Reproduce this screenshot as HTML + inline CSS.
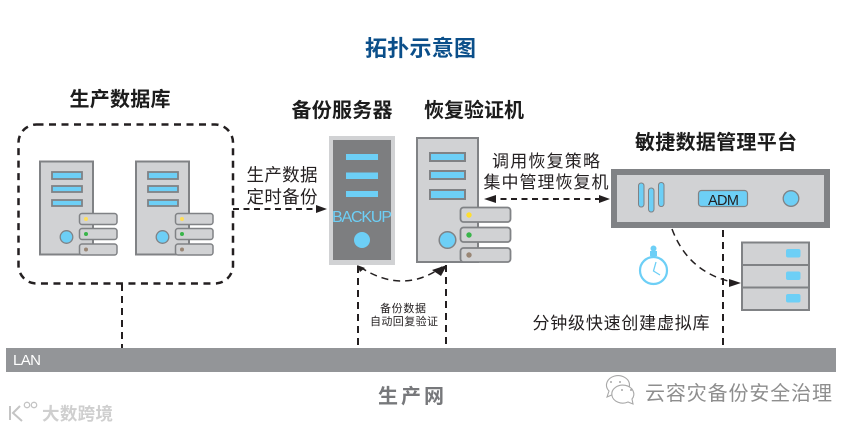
<!DOCTYPE html>
<html><head><meta charset="utf-8"><style>
html,body{margin:0;padding:0;background:#fff;width:860px;height:429px;overflow:hidden}
svg{display:block}
text{font-family:"Liberation Sans","Noto Sans CJK SC",sans-serif}
</style></head><body>
<svg width="860" height="429" viewBox="0 0 860 429" xmlns="http://www.w3.org/2000/svg">
<defs>
<g id="srv">
<rect x="40" y="161.5" width="53" height="93" fill="#d1d2d4" stroke="#808285" stroke-width="2"/>
<rect x="52" y="172" width="30" height="7" fill="#6dcff6" stroke="#808285" stroke-width="1.8"/>
<rect x="52" y="186" width="30" height="6" fill="#6dcff6" stroke="#808285" stroke-width="1.8"/>
<rect x="52" y="200" width="30" height="6" fill="#6dcff6" stroke="#808285" stroke-width="1.8"/>
<circle cx="66.5" cy="237" r="6.3" fill="#6dcff6" stroke="#808285" stroke-width="1.3"/>
<rect x="79.5" y="213.5" width="37.5" height="11" rx="2.5" fill="#d1d2d4" stroke="#808285" stroke-width="1.5"/>
<rect x="79.5" y="228.5" width="37.5" height="11" rx="2.5" fill="#d1d2d4" stroke="#808285" stroke-width="1.5"/>
<rect x="79.5" y="244" width="37.5" height="11" rx="2.5" fill="#d1d2d4" stroke="#808285" stroke-width="1.5"/>
<circle cx="86" cy="219" r="2" fill="#ffde59"/>
<circle cx="86" cy="234" r="2" fill="#39b54a"/>
<circle cx="86" cy="249.5" r="2" fill="#998675"/>
</g>
</defs>

<text x="420.5" y="56" text-anchor="middle" font-size="22" font-weight="700" fill="#0b4f8a" textLength="111">拓扑示意图</text>
<text x="120" y="106" text-anchor="middle" font-size="20" font-weight="700" fill="#1c1c1c" textLength="101">生产数据库</text>
<text x="342" y="117" text-anchor="middle" font-size="20" font-weight="700" fill="#1c1c1c" textLength="101">备份服务器</text>
<text x="474" y="117" text-anchor="middle" font-size="20" font-weight="700" fill="#1c1c1c" textLength="100">恢复验证机</text>
<text x="716" y="149" text-anchor="middle" font-size="20" font-weight="700" fill="#1c1c1c" textLength="162">敏捷数据管理平台</text>

<rect x="18.5" y="124.5" width="214.5" height="159" rx="18" fill="none" stroke="#231f20" stroke-width="2.5" stroke-dasharray="7 5.5"/>
<use href="#srv"/>
<use href="#srv" x="96"/>

<path d="M233 209H322" fill="none" stroke="#231f20" stroke-width="2" stroke-dasharray="6 4.5"/>
<path d="M316 205L327 209L316 213Z" fill="#231f20"/>
<text x="282" y="181" text-anchor="middle" font-size="17.5" fill="#231f20" textLength="71">生产数据</text>
<text x="282" y="203" text-anchor="middle" font-size="17.5" fill="#231f20" textLength="71">定时备份</text>

<rect x="329" y="136" width="66" height="129" fill="#d1d2d4"/>
<rect x="333" y="140" width="58" height="120" fill="#7d7e80"/>
<rect x="346" y="154" width="32" height="6" fill="#6dcff6"/>
<rect x="346" y="172.5" width="32" height="6.5" fill="#6dcff6"/>
<rect x="346" y="191" width="32" height="6" fill="#6dcff6"/>
<text x="362" y="222" text-anchor="middle" font-size="16" fill="#6dcff6" textLength="60">BACKUP</text>
<circle cx="362" cy="240" r="8" fill="#6dcff6"/>

<rect x="417" y="138" width="61" height="124" fill="#d1d2d4" stroke="#808285" stroke-width="2"/>
<rect x="430" y="153" width="35" height="8" fill="#6dcff6" stroke="#808285" stroke-width="2"/>
<rect x="430" y="171" width="35" height="8" fill="#6dcff6" stroke="#808285" stroke-width="2"/>
<rect x="430" y="190" width="35" height="9" fill="#6dcff6" stroke="#808285" stroke-width="2"/>
<circle cx="447.5" cy="240" r="8.3" fill="#6dcff6" stroke="#808285" stroke-width="1.5"/>
<rect x="460.5" y="207.5" width="50" height="14.5" rx="3" fill="#d1d2d4" stroke="#808285" stroke-width="1.8"/>
<rect x="460.5" y="227.5" width="50" height="14.5" rx="3" fill="#d1d2d4" stroke="#808285" stroke-width="1.8"/>
<rect x="460.5" y="248" width="50" height="14" rx="3" fill="#d1d2d4" stroke="#808285" stroke-width="1.8"/>
<circle cx="469" cy="215" r="2.7" fill="#ffde2e"/>
<circle cx="469" cy="235" r="2.7" fill="#39b54a"/>
<circle cx="469" cy="255" r="2.7" fill="#998675"/>

<path d="M360 267Q403 295 442 267" fill="none" stroke="#231f20" stroke-width="1.5" stroke-dasharray="7 5"/>
<path d="M357 265L365 268L360 272Z" fill="#231f20"/>
<path d="M447 265L432 270L441 276Z" fill="#231f20"/>
<path d="M358 266V348M446 265V348" fill="none" stroke="#231f20" stroke-width="2" stroke-dasharray="7 5"/>
<text x="403" y="312" text-anchor="middle" font-size="11" fill="#231f20" textLength="46">备份数据</text>
<text x="404" y="325" text-anchor="middle" font-size="11" fill="#231f20" textLength="68">自动回复验证</text>

<text x="546" y="167" text-anchor="middle" font-size="17" fill="#231f20" textLength="108">调用恢复策略</text>
<text x="546" y="188" text-anchor="middle" font-size="17" fill="#231f20" textLength="125">集中管理恢复机</text>
<path d="M490 199H603" fill="none" stroke="#231f20" stroke-width="2" stroke-dasharray="6 4.5"/>
<path d="M484 199L496 195V203Z" fill="#231f20"/>
<path d="M610 199L599 195V203Z" fill="#231f20"/>

<rect x="611" y="169" width="219" height="59" fill="#808285"/>
<rect x="617" y="175" width="207" height="47" fill="#d1d2d4"/>
<rect x="638.5" y="183" width="5.5" height="24" rx="2.7" fill="#6dcff6" stroke="#808285"/>
<rect x="648.5" y="188" width="5.5" height="24" rx="2.7" fill="#6dcff6" stroke="#808285"/>
<rect x="658.5" y="182.5" width="5.5" height="24" rx="2.7" fill="#6dcff6" stroke="#808285"/>
<rect x="698.5" y="190.5" width="49" height="16" rx="3" fill="#6dcff6" stroke="#808285" stroke-width="1.2"/>
<text x="723.5" y="205" text-anchor="middle" font-size="14.5" fill="#231f20" textLength="31">ADM</text>
<circle cx="791" cy="198.5" r="7.8" fill="#6dcff6" stroke="#808285" stroke-width="1.3"/>

<path d="M672 229Q688 272 732 282" fill="none" stroke="#231f20" stroke-width="1.5" stroke-dasharray="7 5"/>
<path d="M741 283L729 279V287Z" fill="#231f20"/>
<path d="M723 230V348" fill="none" stroke="#231f20" stroke-width="2" stroke-dasharray="7 5"/>

<circle cx="653.5" cy="270.5" r="13.5" fill="#fff" stroke="#6dcff6" stroke-width="2.2"/>
<rect x="650" y="251" width="7" height="5" fill="#6dcff6"/>
<circle cx="653.5" cy="248.5" r="3" fill="#6dcff6"/>
<path d="M656 262L653.5 271L660 275" fill="none" stroke="#6dcff6" stroke-width="1.3"/>

<rect x="742" y="242.5" width="67" height="67.5" fill="#d1d2d4" stroke="#808285" stroke-width="2"/>
<path d="M742 265H809M742 287.5H809" stroke="#808285" stroke-width="2"/>
<rect x="786" y="249" width="14.5" height="8.5" rx="2" fill="#6dcff6"/>
<rect x="786" y="271.5" width="14.5" height="8.5" rx="2" fill="#6dcff6"/>
<rect x="786" y="294" width="14.5" height="8.5" rx="2" fill="#6dcff6"/>
<text x="621" y="329" text-anchor="middle" font-size="17" fill="#231f20" textLength="177">分钟级快速创建虚拟库</text>

<path d="M122 284V348" fill="none" stroke="#231f20" stroke-width="2" stroke-dasharray="7 5"/>
<rect x="6" y="348" width="830" height="24" fill="#939598"/>
<text x="13" y="365" font-size="15" fill="#fff" textLength="28">LAN</text>
<text x="411" y="403" text-anchor="middle" font-size="20" font-weight="700" fill="#77787b" textLength="66">生产网</text>

<g fill="#fff" stroke="#a8a8a8" stroke-width="1.1">
<path d="M607 397L609 391A11.500 9.500 0 1 1 614 394Z"/>
<path d="M633 404L632 399A11 9 0 1 0 628 402Z"/>
</g>
<g fill="#a8a8a8">
<circle cx="611" cy="382" r="1"/><circle cx="620" cy="382" r="1"/>
<circle cx="622" cy="390" r="1"/><circle cx="631" cy="390" r="1"/>
</g>
<text x="645" y="400" font-size="20" fill="#8e8e8e" textLength="187">云容灾备份安全治理</text>

<g fill="none" stroke="#c4c4c4" stroke-width="2">
<path d="M10 406V420M20 406L13 413L22 421"/>
</g>
<g fill="none" stroke="#c4c4c4" stroke-width="1.300">
<circle cx="27" cy="405" r="2.700"/>
<circle cx="34" cy="405" r="2.700"/>
</g>
<text x="42" y="420" font-size="17.500" font-weight="700" fill="#cfcfcf" textLength="71">大数跨境</text>
</svg>
</body></html>
